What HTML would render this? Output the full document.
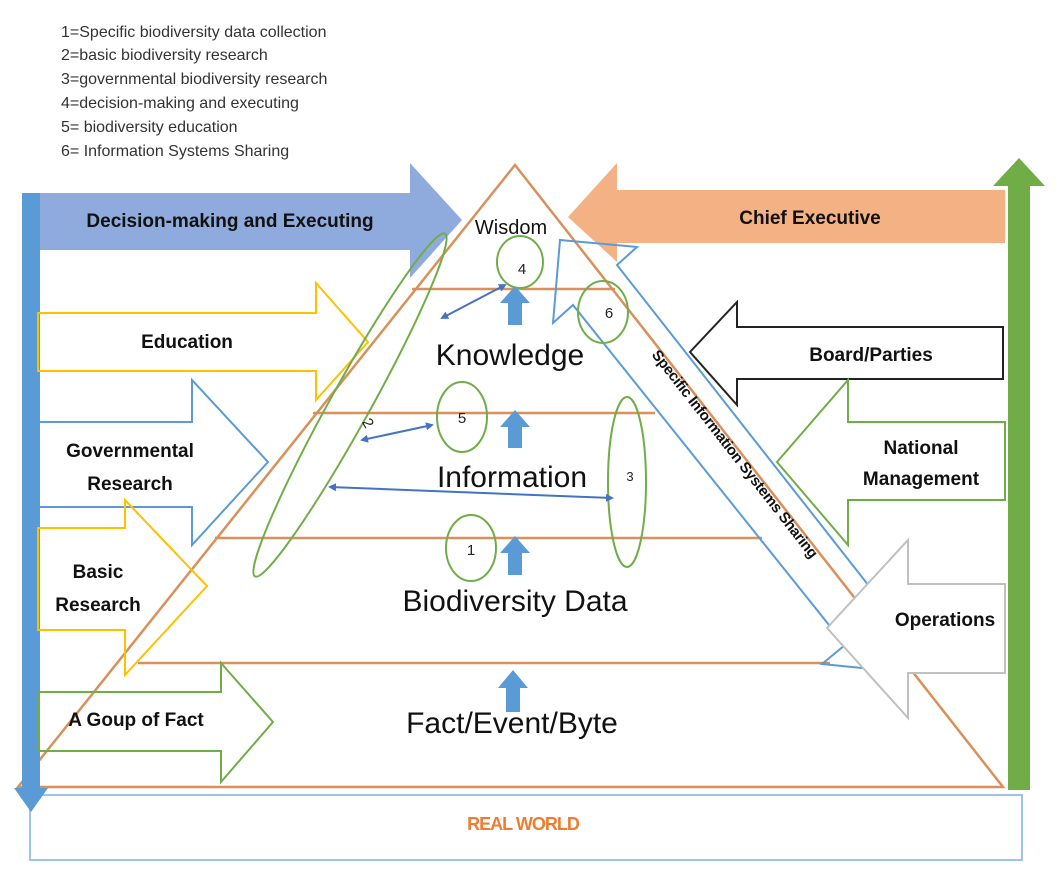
<!DOCTYPE html>
<html><head><meta charset="utf-8"><style>
html,body{margin:0;padding:0;background:#fff;width:1059px;height:881px;overflow:hidden}
svg{display:block}
text{font-family:"Liberation Sans",sans-serif}
.b{font-weight:bold;font-size:19px;fill:#111}
.big{font-size:30px;fill:#111}
.leg{font-size:16px;fill:#333}
</style></head><body>
<svg width="1059" height="881" viewBox="0 0 1059 881" xmlns="http://www.w3.org/2000/svg">
<defs>
<marker id="ah" markerWidth="8" markerHeight="8" refX="6" refY="4" orient="auto-start-reverse" markerUnits="userSpaceOnUse"><path d="M0,0 L8,4 L0,8 z" fill="#4472c4"/></marker>
</defs>
<!-- legend -->
<text class="leg" x="61" y="37">1=Specific biodiversity data collection</text>
<text class="leg" x="61" y="60">2=basic biodiversity research</text>
<text class="leg" x="61" y="84">3=governmental biodiversity research</text>
<text class="leg" x="61" y="108">4=decision-making and executing</text>
<text class="leg" x="61" y="132">5= biodiversity education</text>
<text class="leg" x="61" y="156">6= Information Systems Sharing</text>

<!-- real world box -->
<path d="M30,795 H1022 V860 H30 Z" fill="none" stroke="#9dc3e6" stroke-width="2"/>
<text x="523" y="830" text-anchor="middle" font-weight="bold" font-size="18" fill="#ed7d31" letter-spacing="-1">REAL WORLD</text>

<!-- pyramid -->
<g stroke="#d9905a" stroke-width="2.5" fill="none">
<path d="M18,787 L515,165 L1003,787 Z"/>
<line x1="412" y1="289" x2="615" y2="289"/>
<line x1="313" y1="413" x2="655" y2="413"/>
<line x1="215" y1="538" x2="762" y2="538"/>
<line x1="138" y1="663" x2="830" y2="663"/>
</g>

<!-- big arrows -->
<polygon points="22,193 410,193 410,163 462,220 410,278 410,250 22,250" fill="#8faadc"/>
<polygon points="1005,190 617,190 617,163 568,217 617,262 617,243 1005,243" fill="#f4b183"/>
<rect x="22" y="193" width="18" height="597" fill="#5b9bd5"/>
<polygon points="14,788 48,788 31,812" fill="#5b9bd5"/>
<rect x="1008" y="185" width="22" height="605" fill="#70ad47"/>
<polygon points="993,186 1045,186 1019,158" fill="#70ad47"/>

<!-- outline arrows -->
<g fill="none" stroke-width="2">
<polygon points="38,313 316,313 316,283 368,342 316,400 316,371 38,371" stroke="#ffc000"/>
<polygon points="38,422 192,422 192,380 268,462 192,545 192,507 38,507" stroke="#5b9bd5"/>
<polygon points="38,528 125,528 125,500 207,586 125,675 125,630 38,630" stroke="#ffc000"/>
<polygon points="38,692 221,692 221,663 273,722 221,782 221,751 38,751" stroke="#70ad47"/>
<polygon points="1003,327 737,327 737,302 690,352 737,405 737,379 1003,379" stroke="#222"/>
<polygon points="1005,422 848,422 848,380 777,462 848,545 848,500 1005,500" stroke="#70ad47"/>
<polygon points="560,240 637,247 617,265 880,600 862,668 822,664 845,645 573,305 553,323" stroke="#5b9bd5"/>
</g>
<polygon points="1005,584 908,584 908,540 827,628 908,718 908,673 1005,673" fill="#fff" stroke="#c0c0c0" stroke-width="2"/>

<text transform="translate(731,457) rotate(52)" text-anchor="middle" font-weight="bold" font-size="15" fill="#111" letter-spacing="-0.3">Specific Information Systems Sharing</text>

<!-- ellipses -->
<g fill="none" stroke="#70ad47" stroke-width="2">
<ellipse cx="350" cy="405" rx="20" ry="196" transform="rotate(29 350 405)"/>
<ellipse cx="520" cy="262" rx="23" ry="26"/>
<ellipse cx="462" cy="417" rx="25" ry="35"/>
<ellipse cx="471" cy="548" rx="25" ry="33"/>
<ellipse cx="627" cy="482" rx="19" ry="85"/>
<ellipse cx="603" cy="312" rx="25" ry="31"/>
</g>
<g font-size="15" fill="#222" text-anchor="middle">
<text x="522" y="274">4</text>
<text x="462" y="423">5</text>
<text x="471" y="555">1</text>
<text x="630" y="481" font-size="13">3</text>
<text x="609" y="318">6</text>
<text x="368" y="428" transform="rotate(60 368 423)">2</text>
</g>

<!-- double arrows -->
<g stroke="#4472c4" stroke-width="2" marker-start="url(#ah)" marker-end="url(#ah)">
<line x1="442" y1="318" x2="505" y2="285"/>
<line x1="362" y1="440" x2="432" y2="425"/>
<line x1="330" y1="487" x2="612" y2="498"/>
</g>

<!-- up block arrows -->
<g fill="#5b9bd5">
<polygon points="508,325 522,325 522,303 530,303 515,286 500,303 508,303"/>
<polygon points="508,448 522,448 522,427 530,427 515,410 500,427 508,427"/>
<polygon points="508,575 522,575 522,553 530,553 515,536 500,553 508,553"/>
<polygon points="506,712 520,712 520,688 528,688 513,670 498,688 506,688"/>
</g>

<!-- texts -->
<text x="511" y="234" text-anchor="middle" font-size="20" fill="#111">Wisdom</text>
<text x="510" y="365" text-anchor="middle" class="big">Knowledge</text>
<text x="512" y="487" text-anchor="middle" class="big">Information</text>
<text x="515" y="611" text-anchor="middle" class="big">Biodiversity Data</text>
<text x="512" y="733" text-anchor="middle" class="big">Fact/Event/Byte</text>

<text class="b" x="230" y="227" text-anchor="middle">Decision-making and Executing</text>
<text class="b" x="810" y="224" text-anchor="middle">Chief Executive</text>
<text class="b" x="187" y="348" text-anchor="middle" font-size="21">Education</text>
<text class="b" x="130" y="457" text-anchor="middle">Governmental</text>
<text class="b" x="130" y="490" text-anchor="middle">Research</text>
<text class="b" x="98" y="578" text-anchor="middle">Basic</text>
<text class="b" x="98" y="611" text-anchor="middle">Research</text>
<text class="b" x="136" y="726" text-anchor="middle">A Goup of  Fact</text>
<text class="b" x="871" y="361" text-anchor="middle">Board/Parties</text>
<text class="b" x="921" y="454" text-anchor="middle">National</text>
<text class="b" x="921" y="485" text-anchor="middle">Management</text>
<text class="b" x="945" y="626" text-anchor="middle">Operations</text>
</svg>
</body></html>
